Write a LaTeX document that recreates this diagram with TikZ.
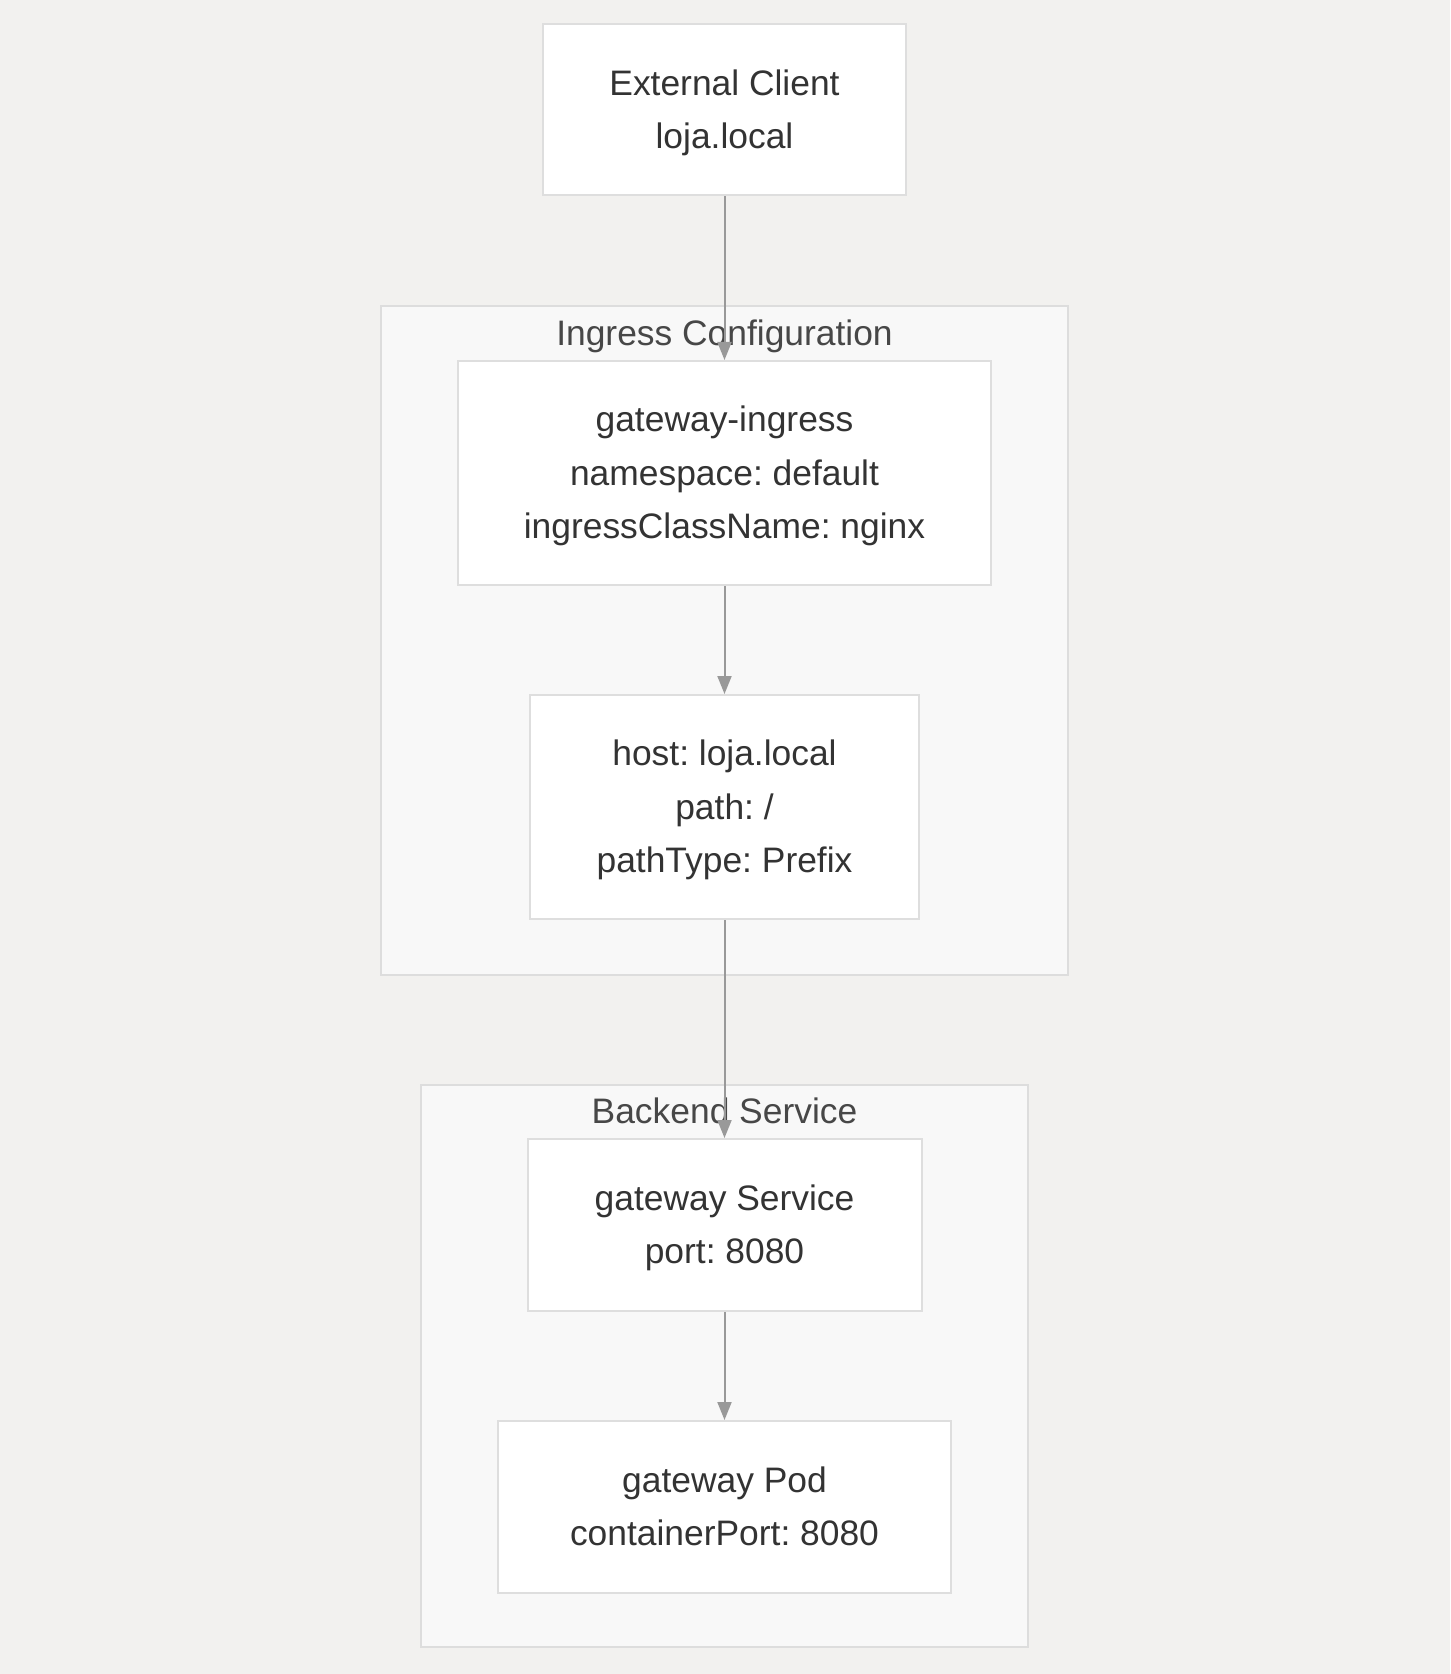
\documentclass[tikz,border=0pt]{standalone}
\usepackage{fontspec}
\setmainfont{Liberation Sans}
\usetikzlibrary{arrows.meta}
\frenchspacing

\definecolor{bgcol}{HTML}{F2F1EF}
\definecolor{clusterfill}{HTML}{F8F8F8}
\definecolor{clusterline}{HTML}{DDDDDD}
\definecolor{boxline}{HTML}{DEDEDE}
\definecolor{txtcol}{HTML}{333333}
\definecolor{arrowcol}{HTML}{999999}

% one line of text, as tall as a line box
\newcommand\lnbox{\rule[-7.2pt]{0pt}{26.6pt}}

\begin{document}
\begin{tikzpicture}[x=0.5pt,y=-0.5pt,
  every text node part/.style={align=center},
  box/.style={draw=boxline,fill=white,line width=1pt,text=txtcol,inner sep=0pt,
    font=\fontsize{17.7}{26.7}\selectfont},
  cluster/.style={draw=clusterline,fill=clusterfill,line width=1pt},
  clusterlabel/.style={text=txtcol!90,font=\fontsize{17.7}{26.7}\selectfont,inner sep=0pt},
  flow/.style={draw=arrowcol,line width=1pt,-{Triangle[length=9pt,width=7pt]}}]

\useasboundingbox[fill=bgcol](0,0)rectangle(1450,1674);

% subgraphs
\draw[cluster](381,306)rectangle(1068,975);
\draw[cluster](421,1085)rectangle(1028,1647);
\node[clusterlabel](ingresslabel)at(724.5,333){\lnbox Ingress Configuration};
\node[clusterlabel](backendlabel)at(724.5,1111){\lnbox Backend Service};

% nodes
\node[box,minimum width=181.5pt,minimum height=85.5pt](client)at(724.5,110){\lnbox External Client\\\lnbox loja.local};
\node[box,minimum width=266.5pt,minimum height=112pt](ingress)at(724.5,473){\lnbox gateway-ingress\\\lnbox namespace: default\\\lnbox ingressClassName: nginx};
\node[box,minimum width=194.5pt,minimum height=112pt](rule)at(724.5,807){\lnbox host: loja.local\\\lnbox path: /\\\lnbox pathType: Prefix};
\node[box,minimum width=197pt,minimum height=86pt](svc)at(724.5,1225){\lnbox gateway Service\\\lnbox port: 8080};
\node[box,minimum width=226.5pt,minimum height=86pt](pod)at(724.5,1507){\lnbox gateway Pod\\\lnbox containerPort: 8080};

% connectors
\draw[flow](client)--(ingress);
\draw[flow](ingress)--(rule);
\draw[flow](rule)--(svc);
\draw[flow](svc)--(pod);

\end{tikzpicture}
\end{document}
